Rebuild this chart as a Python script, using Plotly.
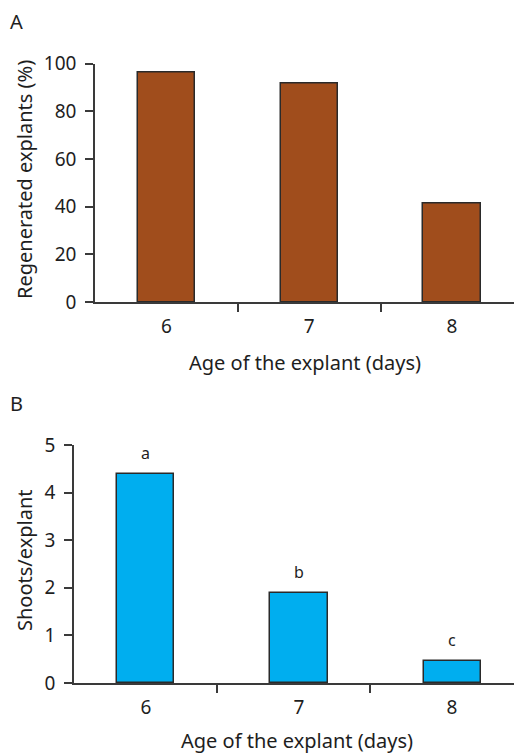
import plotly.graph_objects as go

# Data
ages = ["6", "7", "8"]
regenerated_pct = [96.4, 91.8, 41.5]
shoots_per_explant = [4.39, 1.90, 0.46]
sig_letters = ["a", "b", "c"]

# The page body adds an 8px offset; size the figure to fill the rest of the window
OFF = 8
W, H = 522 - OFF, 753 - OFF
FONT = "Noto Sans"
FS = 19
TFS = 20
AX = "#3a3a3a"
TXT = "#1e1e1e"
BROWN = "#A04D1C"
BLUE = "#00AEEF"

def px_x(p):
    return (p - OFF) / W

def px_y(p):
    return 1 - (p - OFF) / H

xpos = list(range(len(ages)))

fig = go.Figure()
fig.add_trace(go.Bar(x=xpos, y=regenerated_pct, width=0.4,
                     marker=dict(color=BROWN, line=dict(color="#2a2a2a", width=1.5)),
                     xaxis="x", yaxis="y", showlegend=False, hoverinfo="skip"))
fig.add_trace(go.Bar(x=xpos, y=shoots_per_explant, width=0.373,
                     marker=dict(color=BLUE, line=dict(color="#2a2a2a", width=1.5)),
                     xaxis="x2", yaxis="y2", showlegend=False, hoverinfo="skip"))

common_x = dict(tickmode="array", tickvals=xpos, ticktext=ages, ticks="",
                showline=True, linecolor=AX, linewidth=1.5, showgrid=False,
                zeroline=False, tickfont=dict(family=FONT, size=FS, color=TXT),
                ticklabelstandoff=6, automargin=False, fixedrange=True)
common_y = dict(ticks="outside", ticklen=8, tickwidth=1.5, tickcolor=AX,
                showline=True, linecolor=AX, linewidth=1.5, showgrid=False,
                zeroline=False, tickfont=dict(family=FONT, size=FS, color=TXT),
                ticklabelstandoff=5, automargin=False, fixedrange=True)

fig.update_layout(
    width=W, height=H,
    margin=dict(l=0, r=0, t=0, b=0, pad=0, autoexpand=False),
    paper_bgcolor="white", plot_bgcolor="white",
    bargap=0,
    xaxis=dict(domain=[px_x(95), 1], range=[-0.5, 2.49], anchor="y",
               minor=dict(tickmode="array", tickvals=[0.5, 1.5, 2.5], ticks="outside",
                          ticklen=8, tickwidth=1.5, tickcolor=AX),
               **common_x),
    yaxis=dict(domain=[px_y(302), px_y(63.5)], range=[0, 100],
               tickvals=[0, 20, 40, 60, 80, 100], anchor="x", **common_y),
    xaxis2=dict(domain=[px_x(74), 1], range=[-0.47, 2.457], anchor="y2",
                minor=dict(tickmode="array", tickvals=[0.464, 1.464, 2.464], ticks="outside",
                           ticklen=8, tickwidth=1.5, tickcolor=AX),
                **common_x),
    yaxis2=dict(domain=[px_y(683), px_y(445)], range=[0, 5],
                tickvals=[0, 1, 2, 3, 4, 5], anchor="x2", **common_y),
)

annotations = [
    dict(text="A", x=px_x(8), y=px_y(21), xref="paper", yref="paper",
         xanchor="left", yanchor="middle", showarrow=False,
         font=dict(family=FONT, size=20, color=TXT)),
    dict(text="B", x=px_x(8), y=px_y(403), xref="paper", yref="paper",
         xanchor="left", yanchor="middle", showarrow=False,
         font=dict(family=FONT, size=20, color=TXT)),
    dict(text="Regenerated explants (%)", x=px_x(24), y=px_y(180), xref="paper", yref="paper",
         textangle=-90, xanchor="center", yanchor="middle", showarrow=False,
         font=dict(family=FONT, size=TFS, color=TXT)),
    dict(text="Age of the explant (days)", x=px_x(305), y=px_y(362), xref="paper", yref="paper",
         xanchor="center", yanchor="middle", showarrow=False,
         font=dict(family=FONT, size=TFS, color=TXT)),
    dict(text="Shoots/explant", x=px_x(24), y=px_y(560), xref="paper", yref="paper",
         textangle=-90, xanchor="center", yanchor="middle", showarrow=False,
         font=dict(family=FONT, size=TFS, color=TXT)),
    dict(text="Age of the explant (days)", x=px_x(297), y=px_y(740), xref="paper", yref="paper",
         xanchor="center", yanchor="middle", showarrow=False,
         font=dict(family=FONT, size=TFS, color=TXT)),
]
for xi, yi, t in zip(xpos, shoots_per_explant, sig_letters):
    annotations.append(dict(text=t, x=xi, y=yi, xref="x2", yref="y2",
                            xanchor="center", yanchor="bottom", yshift=8, showarrow=False,
                            font=dict(family=FONT, size=16, color=TXT)))
fig.update_layout(annotations=annotations)

fig.write_html("out.html")
